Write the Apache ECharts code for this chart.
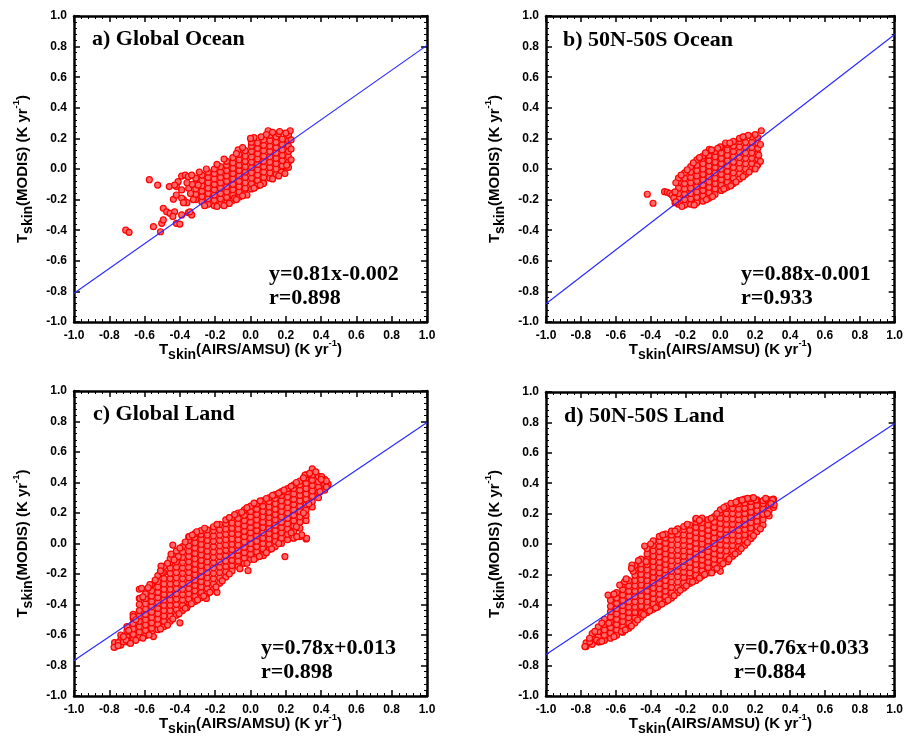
<!DOCTYPE html>
<html>
<head>
<meta charset="utf-8">
<script src="https://cdn.jsdelivr.net/npm/echarts@6/dist/echarts.min.js"></script>
<style>
  html, body { margin: 0; background: #fff; }
  #chart { width: 906px; height: 738px; }
</style>
</head>
<body>
<div id="chart"></div>
<script>
// scatter clouds, one column per x value: [x, y1, y2, ...]
const oceanGlobalCols = [
  [-0.31, -0.20, -0.165, -0.13, -0.095, -0.06],
  [-0.275, -0.215, -0.18, -0.145, -0.11, -0.075, -0.04],
  [-0.24, -0.23, -0.195, -0.16, -0.125, -0.09, -0.055, -0.02],
  [-0.205, -0.24, -0.205, -0.17, -0.135, -0.10, -0.065, -0.03, 0.0],
  [-0.17, -0.23, -0.195, -0.16, -0.125, -0.09, -0.055, -0.02, 0.015],
  [-0.135, -0.22, -0.185, -0.15, -0.115, -0.08, -0.045, -0.01, 0.025, 0.05],
  [-0.10, -0.205, -0.17, -0.135, -0.10, -0.065, -0.03, 0.005, 0.04, 0.075],
  [-0.065, -0.185, -0.15, -0.115, -0.08, -0.045, -0.01, 0.025, 0.06, 0.095],
  [-0.03, -0.16, -0.125, -0.09, -0.055, -0.02, 0.015, 0.05, 0.085, 0.12],
  [0.005, -0.13, -0.095, -0.06, -0.025, 0.01, 0.045, 0.08, 0.115, 0.15, 0.175],
  [0.04, -0.11, -0.075, -0.04, -0.005, 0.03, 0.065, 0.10, 0.135, 0.17],
  [0.075, -0.09, -0.055, -0.02, 0.015, 0.05, 0.085, 0.12, 0.155, 0.19],
  [0.11, -0.06, -0.025, 0.01, 0.045, 0.08, 0.115, 0.15, 0.185, 0.22],
  [0.145, -0.035, 0.0, 0.035, 0.07, 0.105, 0.14, 0.175, 0.21],
  [0.18, -0.015, 0.02, 0.055, 0.09, 0.125, 0.16, 0.195],
  [0.215, 0.01, 0.045, 0.08, 0.115, 0.15, 0.185, 0.22]
];
const oceanGlobalExtra = [
  [-0.707, -0.40], [-0.688, -0.414], [-0.573, -0.07], [-0.526, -0.105], [-0.55, -0.377],
  [-0.503, -0.355], [-0.494, -0.257], [-0.51, -0.41], [-0.494, -0.333], [-0.475, -0.28],
  [-0.456, -0.29], [-0.43, -0.28], [-0.42, -0.355], [-0.39, -0.30], [-0.352, -0.285],
  [-0.333, -0.30], [-0.41, -0.083], [-0.39, -0.046], [-0.37, -0.04], [-0.352, -0.05],
  [-0.42, -0.115], [-0.39, -0.137], [-0.35, -0.126], [-0.38, -0.20], [-0.36, -0.22],
  [-0.324, -0.20], [-0.437, -0.198], [-0.42, -0.17], [-0.39, -0.19], [-0.38, -0.22],
  [-0.46, -0.115], [-0.43, -0.105], [-0.333, -0.04], [-0.296, -0.105], [-0.343, -0.28],
  [-0.40, -0.36], [-0.44, -0.31], [-0.34, -0.16], [-0.33, -0.10], [-0.36, -0.09],
  [0.10, 0.25], [0.125, 0.24], [0.225, 0.25], [0.02, 0.205], [-0.07, 0.125],
  [0.205, 0.025], [0.175, -0.02], [0.073, -0.094], [-0.12, -0.225], [-0.09, -0.19],
  [0.0, 0.20], [-0.02, -0.17], [0.16, 0.23],
  [-0.29, -0.02], [-0.25, 0.0], [-0.19, 0.03], [-0.15, 0.065], [-0.08, 0.10], [-0.045, 0.14],
  [0.06, 0.21], [0.09, 0.225], [0.165, 0.245], [0.2, 0.235], [-0.26, -0.24], [-0.19, -0.245],
  [-0.15, -0.24], [-0.08, -0.2], [-0.045, -0.175], [0.02, -0.125], [0.055, -0.105],
  [0.125, -0.065], [0.16, -0.045], [0.195, -0.03], [0.23, 0.06], [0.23, 0.13], [0.23, 0.19]
];

const ocean5050Cols = [
  [-0.24, -0.23, -0.195, -0.16, -0.125, -0.09, -0.06],
  [-0.205, -0.235, -0.20, -0.165, -0.13, -0.095, -0.06, -0.025],
  [-0.17, -0.23, -0.195, -0.16, -0.125, -0.09, -0.055, -0.02, 0.015],
  [-0.135, -0.22, -0.185, -0.15, -0.115, -0.08, -0.045, -0.01, 0.025, 0.06],
  [-0.10, -0.21, -0.175, -0.14, -0.105, -0.07, -0.035, 0.0, 0.035, 0.07, 0.085],
  [-0.065, -0.19, -0.155, -0.12, -0.085, -0.05, -0.015, 0.02, 0.055, 0.09, 0.12],
  [-0.03, -0.165, -0.13, -0.095, -0.06, -0.025, 0.01, 0.045, 0.08, 0.115],
  [0.005, -0.14, -0.105, -0.07, -0.035, 0.0, 0.035, 0.07, 0.105, 0.14],
  [0.04, -0.12, -0.085, -0.05, -0.015, 0.02, 0.055, 0.09, 0.125, 0.16],
  [0.075, -0.095, -0.06, -0.025, 0.01, 0.045, 0.08, 0.115, 0.15, 0.18],
  [0.11, -0.065, -0.03, 0.005, 0.04, 0.075, 0.11, 0.145, 0.18, 0.20],
  [0.145, -0.035, 0.0, 0.035, 0.07, 0.105, 0.14, 0.175, 0.21],
  [0.18, 0.0, 0.035, 0.07, 0.105, 0.14, 0.175, 0.21],
  [0.215, 0.03, 0.065, 0.10, 0.135, 0.17, 0.205]
];
const ocean5050Extra = [
  [-0.419, -0.165], [-0.386, -0.224], [-0.32, -0.148], [-0.305, -0.152], [-0.29, -0.159],
  [-0.277, -0.17], [-0.267, -0.19], [-0.26, -0.22], [0.235, 0.25], [0.21, 0.022],
  [0.22, 0.09], [-0.063, 0.129], [0.0, 0.145], [0.03, 0.17],
  [-0.255, -0.215], [-0.22, -0.245], [-0.15, -0.235], [-0.08, -0.2], [-0.045, -0.18],
  [0.02, -0.13], [0.06, -0.11], [0.09, -0.085], [0.13, -0.05], [0.165, -0.02], [0.2, 0.0],
  [0.23, 0.05], [0.23, 0.16], [0.2, 0.225], [0.16, 0.22], [0.13, 0.21], [0.055, 0.17],
  [-0.015, 0.135], [-0.05, 0.125], [-0.085, 0.105], [-0.12, 0.075], [-0.155, 0.04],
  [-0.19, -0.005], [-0.225, -0.04], [-0.255, -0.09], [-0.26, -0.15]
];

const landGlobalCols = [
  [-0.77, -0.68, -0.65],
  [-0.735, -0.665, -0.63, -0.60],
  [-0.70, -0.645, -0.61, -0.575, -0.545],
  [-0.665, -0.63, -0.595, -0.56, -0.525, -0.49, -0.465],
  [-0.63, -0.615, -0.58, -0.545, -0.51, -0.475, -0.44, -0.40, -0.36, -0.30],
  [-0.595, -0.605, -0.57, -0.535, -0.50, -0.465, -0.43, -0.395, -0.36, -0.33],
  [-0.56, -0.59, -0.555, -0.52, -0.485, -0.45, -0.415, -0.38, -0.345, -0.31, -0.27],
  [-0.525, -0.565, -0.53, -0.495, -0.46, -0.425, -0.39, -0.355, -0.32, -0.285, -0.25, -0.21],
  [-0.49, -0.545, -0.51, -0.475, -0.44, -0.405, -0.37, -0.335, -0.30, -0.265, -0.23, -0.19, -0.15],
  [-0.455, -0.51, -0.475, -0.44, -0.405, -0.37, -0.335, -0.30, -0.265, -0.23, -0.195, -0.16, -0.125, -0.10],
  [-0.42, -0.47, -0.435, -0.40, -0.365, -0.33, -0.295, -0.26, -0.225, -0.19, -0.155, -0.12, -0.085, -0.05],
  [-0.385, -0.44, -0.405, -0.37, -0.335, -0.30, -0.265, -0.23, -0.195, -0.16, -0.125, -0.09, -0.055, -0.02],
  [-0.35, -0.40, -0.365, -0.33, -0.295, -0.26, -0.225, -0.19, -0.155, -0.12, -0.085, -0.05, -0.015, 0.02, 0.045],
  [-0.315, -0.38, -0.345, -0.31, -0.275, -0.24, -0.205, -0.17, -0.135, -0.10, -0.065, -0.03, 0.005, 0.04, 0.065],
  [-0.28, -0.355, -0.32, -0.285, -0.25, -0.215, -0.18, -0.145, -0.11, -0.075, -0.04, -0.005, 0.03, 0.06, 0.085],
  [-0.245, -0.33, -0.295, -0.26, -0.225, -0.19, -0.155, -0.12, -0.085, -0.05, -0.015, 0.02, 0.055, 0.09],
  [-0.21, -0.30, -0.265, -0.23, -0.195, -0.16, -0.125, -0.09, -0.055, -0.02, 0.015, 0.05, 0.085, 0.11],
  [-0.175, -0.26, -0.225, -0.19, -0.155, -0.12, -0.085, -0.05, -0.015, 0.02, 0.055, 0.09, 0.125],
  [-0.14, -0.22, -0.185, -0.15, -0.115, -0.08, -0.045, -0.01, 0.025, 0.06, 0.095, 0.13, 0.155],
  [-0.105, -0.18, -0.145, -0.11, -0.075, -0.04, -0.005, 0.03, 0.065, 0.10, 0.135, 0.17],
  [-0.07, -0.15, -0.115, -0.08, -0.045, -0.01, 0.025, 0.06, 0.095, 0.13, 0.165, 0.20],
  [-0.035, -0.13, -0.095, -0.06, -0.025, 0.01, 0.045, 0.08, 0.115, 0.15, 0.185, 0.22],
  [0.0, -0.105, -0.07, -0.035, 0.0, 0.035, 0.07, 0.105, 0.14, 0.175, 0.21, 0.245],
  [0.035, -0.09, -0.055, -0.02, 0.015, 0.05, 0.085, 0.12, 0.155, 0.19, 0.225, 0.26],
  [0.07, -0.07, -0.035, 0.0, 0.035, 0.07, 0.105, 0.14, 0.175, 0.21, 0.245, 0.28],
  [0.105, -0.04, -0.005, 0.03, 0.065, 0.10, 0.135, 0.17, 0.205, 0.24, 0.275, 0.30],
  [0.14, -0.02, 0.015, 0.05, 0.085, 0.12, 0.155, 0.19, 0.225, 0.26, 0.295, 0.32],
  [0.175, 0.0, 0.035, 0.07, 0.105, 0.14, 0.175, 0.21, 0.245, 0.28, 0.315, 0.34],
  [0.21, 0.025, 0.06, 0.095, 0.13, 0.165, 0.20, 0.235, 0.27, 0.305, 0.34, 0.36],
  [0.245, 0.035, 0.08, 0.115, 0.15, 0.185, 0.22, 0.255, 0.29, 0.325, 0.36, 0.385],
  [0.28, 0.045, 0.10, 0.14, 0.175, 0.21, 0.245, 0.28, 0.315, 0.35, 0.385, 0.41],
  [0.315, 0.03, 0.15, 0.185, 0.22, 0.255, 0.29, 0.325, 0.36, 0.395, 0.43, 0.45],
  [0.35, 0.24, 0.275, 0.31, 0.345, 0.38, 0.415, 0.45, 0.49],
  [0.385, 0.30, 0.335, 0.37, 0.405, 0.44],
  [0.42, 0.35, 0.385, 0.42]
];
const landGlobalExtra = [
  [0.195, -0.086], [-0.44, -0.01], [-0.507, -0.148], [-0.50, -0.19], [-0.617, -0.294],
  [-0.57, -0.27], [-0.626, -0.36], [-0.664, -0.48], [-0.749, -0.65], [-0.72, -0.644],
  [-0.705, -0.633], [-0.773, -0.681], [-0.409, -0.086], [-0.433, -0.108], [-0.347, 0.045],
  [-0.305, 0.077], [0.309, 0.449], [0.403, 0.438], [0.394, 0.34], [0.318, 0.034],
  [0.29, 0.056], [0.262, 0.045], [-0.40, -0.52], [-0.19, -0.32], [-0.014, -0.178],
  [0.073, -0.08], [-0.36, -0.42], [-0.25, -0.36], [-0.55, -0.61], [0.44, 0.39], [0.43, 0.41],
  [-0.45, -0.07], [-0.40, -0.03], [-0.37, 0.01], [-0.33, 0.055], [-0.26, 0.10], [-0.19, 0.125],
  [-0.12, 0.17], [-0.09, 0.19], [-0.05, 0.205], [-0.02, 0.235], [0.02, 0.265], [0.055, 0.28],
  [0.09, 0.295], [0.125, 0.315], [0.16, 0.33], [0.19, 0.35], [0.23, 0.375], [0.26, 0.40],
  [0.30, 0.43], [0.335, 0.46], [0.37, 0.47], [0.40, 0.42], [0.43, 0.37], [0.33, 0.26],
  [0.30, 0.20], [0.26, 0.11], [0.23, 0.07], [0.16, 0.0], [0.12, -0.035], [0.09, -0.06],
  [0.05, -0.085], [0.02, -0.105], [-0.02, -0.13], [-0.06, -0.165], [-0.12, -0.2],
  [-0.16, -0.245], [-0.195, -0.285], [-0.23, -0.32], [-0.265, -0.345], [-0.30, -0.37],
  [-0.335, -0.395], [-0.37, -0.425], [-0.405, -0.46], [-0.44, -0.495], [-0.47, -0.535],
  [-0.51, -0.56], [-0.575, -0.60], [-0.61, -0.62], [-0.65, -0.635], [-0.68, -0.655],
  [-0.75, -0.67], [-0.72, -0.61], [-0.69, -0.57], [-0.65, -0.50], [-0.61, -0.35],
  [-0.58, -0.29], [-0.54, -0.24], [-0.51, -0.18], [-0.47, -0.13]
];

const land5050Cols = [
  [-0.77, -0.675, -0.65],
  [-0.735, -0.66, -0.625, -0.59],
  [-0.70, -0.645, -0.61, -0.575, -0.545],
  [-0.665, -0.635, -0.60, -0.565, -0.53, -0.495],
  [-0.63, -0.62, -0.585, -0.55, -0.515, -0.48, -0.445, -0.41, -0.37],
  [-0.595, -0.60, -0.565, -0.53, -0.495, -0.46, -0.425, -0.39, -0.355, -0.32],
  [-0.56, -0.58, -0.545, -0.51, -0.475, -0.44, -0.405, -0.37, -0.335, -0.30, -0.265],
  [-0.525, -0.555, -0.52, -0.485, -0.45, -0.415, -0.38, -0.345, -0.31, -0.275, -0.24],
  [-0.49, -0.52, -0.485, -0.45, -0.415, -0.38, -0.345, -0.31, -0.275, -0.24, -0.205, -0.17, -0.14],
  [-0.455, -0.48, -0.445, -0.41, -0.375, -0.34, -0.305, -0.27, -0.235, -0.20, -0.165, -0.13, -0.10],
  [-0.42, -0.45, -0.415, -0.38, -0.345, -0.31, -0.275, -0.24, -0.205, -0.17, -0.135, -0.10, -0.065, -0.03],
  [-0.385, -0.43, -0.395, -0.36, -0.325, -0.29, -0.255, -0.22, -0.185, -0.15, -0.115, -0.08, -0.045, -0.01, 0.02],
  [-0.35, -0.40, -0.365, -0.33, -0.295, -0.26, -0.225, -0.19, -0.155, -0.12, -0.085, -0.05, -0.015, 0.02, 0.05],
  [-0.315, -0.38, -0.345, -0.31, -0.275, -0.24, -0.205, -0.17, -0.135, -0.10, -0.065, -0.03, 0.005, 0.04, 0.065],
  [-0.28, -0.355, -0.32, -0.285, -0.25, -0.215, -0.18, -0.145, -0.11, -0.075, -0.04, -0.005, 0.03, 0.06, 0.085],
  [-0.245, -0.32, -0.285, -0.25, -0.215, -0.18, -0.145, -0.11, -0.075, -0.04, -0.005, 0.03, 0.065, 0.10],
  [-0.21, -0.29, -0.255, -0.22, -0.185, -0.15, -0.115, -0.08, -0.045, -0.01, 0.025, 0.06, 0.095, 0.115],
  [-0.175, -0.26, -0.225, -0.19, -0.155, -0.12, -0.085, -0.05, -0.015, 0.02, 0.055, 0.09, 0.125],
  [-0.14, -0.24, -0.205, -0.17, -0.135, -0.10, -0.065, -0.03, 0.005, 0.04, 0.075, 0.11, 0.145, 0.165],
  [-0.105, -0.21, -0.175, -0.14, -0.105, -0.07, -0.035, 0.0, 0.035, 0.07, 0.105, 0.14, 0.17],
  [-0.07, -0.19, -0.155, -0.12, -0.085, -0.05, -0.015, 0.02, 0.055, 0.09, 0.125, 0.16],
  [-0.035, -0.17, -0.135, -0.10, -0.065, -0.03, 0.005, 0.04, 0.075, 0.11, 0.145, 0.18],
  [0.0, -0.145, -0.11, -0.075, -0.04, -0.005, 0.03, 0.065, 0.10, 0.135, 0.17, 0.205, 0.225],
  [0.035, -0.115, -0.08, -0.045, -0.01, 0.025, 0.06, 0.095, 0.13, 0.165, 0.20, 0.235, 0.25],
  [0.07, -0.08, -0.045, -0.01, 0.025, 0.06, 0.095, 0.13, 0.165, 0.20, 0.235, 0.265],
  [0.105, -0.05, -0.015, 0.02, 0.055, 0.09, 0.125, 0.16, 0.195, 0.23, 0.265, 0.285],
  [0.14, -0.01, 0.025, 0.06, 0.095, 0.13, 0.165, 0.20, 0.235, 0.27, 0.295],
  [0.175, 0.035, 0.07, 0.105, 0.14, 0.175, 0.21, 0.245, 0.28, 0.30],
  [0.21, 0.08, 0.115, 0.15, 0.185, 0.22, 0.255, 0.29],
  [0.245, 0.125, 0.16, 0.195, 0.23, 0.265, 0.285],
  [0.28, 0.185, 0.22, 0.255, 0.29],
  [0.305, 0.24, 0.27, 0.295]
];
const land5050Extra = [
  [-0.777, -0.675], [-0.749, -0.643], [-0.71, -0.632], [-0.691, -0.643], [-0.644, -0.336],
  [-0.577, -0.27], [-0.549, -0.248], [-0.50, -0.18], [-0.507, -0.138], [-0.434, -0.013],
  [-0.425, -0.116], [-0.36, -0.415], [-0.177, -0.248], [-0.05, -0.19], [0.0, -0.18],
  [0.042, -0.116], [0.175, 0.037], [0.30, 0.29], [0.309, 0.257], [0.156, 0.30],
  [0.204, 0.29], [-0.139, 0.169], [-0.053, 0.169], [0.061, 0.268], [-0.453, -0.456],
  [-0.567, -0.577], [-0.64, -0.52],
  [-0.47, -0.11], [-0.40, 0.0], [-0.33, 0.06], [-0.26, 0.085], [-0.19, 0.13], [-0.12, 0.155],
  [-0.02, 0.2], [0.02, 0.24], [0.09, 0.275], [0.125, 0.29], [0.19, 0.305], [0.26, 0.30],
  [0.29, 0.265], [0.27, 0.2], [0.23, 0.10], [0.19, 0.055], [0.155, 0.01], [0.12, -0.03],
  [0.085, -0.065], [0.05, -0.1], [0.015, -0.13], [-0.02, -0.16], [-0.09, -0.2], [-0.12, -0.225],
  [-0.16, -0.25], [-0.195, -0.275], [-0.23, -0.305], [-0.265, -0.34], [-0.30, -0.37],
  [-0.335, -0.395], [-0.37, -0.42], [-0.405, -0.44], [-0.44, -0.465], [-0.475, -0.50],
  [-0.51, -0.54], [-0.545, -0.565], [-0.61, -0.61], [-0.68, -0.64], [-0.75, -0.62],
  [-0.72, -0.575], [-0.68, -0.52], [-0.61, -0.33], [-0.54, -0.23], [-0.51, -0.16]
];

// regression line end points at x = -1 and x = 1
const fitLines = [
  [[-1, -0.812], [1, 0.808]],
  [[-1, -0.881], [1, 0.879]],
  [[-1, -0.767], [1, 0.793]],
  [[-1, -0.727], [1, 0.793]]
];
const panelTitles = ['a) Global Ocean', 'b) 50N-50S Ocean', 'c) Global Land', 'd) 50N-50S Land'];
const fitTexts = ['y=0.81x-0.002\nr=0.898', 'y=0.88x-0.001\nr=0.933', 'y=0.78x+0.013\nr=0.898', 'y=0.76x+0.033\nr=0.884'];

const toPoints = (cols, extra) => cols.flatMap(c => c.slice(1).map(y => [c[0], y])).concat(extra);
const clouds = [
  toPoints(oceanGlobalCols, oceanGlobalExtra),
  toPoints(ocean5050Cols, ocean5050Extra),
  toPoints(landGlobalCols, landGlobalExtra),
  toPoints(land5050Cols, land5050Extra)
];

const grids = [
  { left: 74, top: 16, width: 353, height: 306 },
  { left: 546, top: 16, width: 352, height: 306 },
  { left: 74, top: 391, width: 353, height: 305 },
  { left: 546, top: 392, width: 350, height: 304 }
];
const titlePos = [[92, 28], [563, 29], [93, 403], [564, 405]];
const fitPos = [[269, 262], [741, 262], [261, 636], [734, 636]];

const sans = 'Liberation Sans, Arial, sans-serif';
const serif = 'Liberation Serif, Times New Roman, serif';
const nameRich = {
  b: { fontFamily: sans, fontWeight: 'bold', fontSize: 15, lineHeight: 24, color: '#000' },
  s: { fontFamily: sans, fontWeight: 'bold', fontSize: 14, lineHeight: 14, verticalAlign: 'bottom', color: '#000' },
  p: { fontFamily: sans, fontWeight: 'bold', fontSize: 9.5, lineHeight: 10, verticalAlign: 'top', color: '#000' }
};
const fmt = v => (Math.abs(v) < 1e-9 ? 0 : v).toFixed(1);

function axis(gridIndex, position, withLabels, name) {
  const a = {
    type: 'value', gridIndex, position, min: -1, max: 1, interval: 0.2,
    axisLine: { onZero: false, lineStyle: { color: '#000', width: 2.5 } },
    axisTick: { inside: true, length: 6, lineStyle: { color: '#000', width: 1.5 } },
    minorTick: { show: true, splitNumber: 5, length: 3, lineStyle: { color: '#000', width: 1 } },
    splitLine: { show: false },
    axisLabel: {
      show: withLabels, formatter: fmt, color: '#000',
      fontFamily: sans, fontWeight: 'bold', fontSize: 12,
      margin: position === 'left' ? 7 : 8
    }
  };
  if (name) {
    a.name = name;
    a.nameLocation = 'middle';
    a.nameMoveOverlap = false;
    a.nameTextStyle = { rich: nameRich };
    if (position === 'left') { a.nameRotate = 90; a.nameGap = 39; }
    else { a.nameGap = 16; }
  }
  return a;
}

const xName = '{b|T}{s|skin}{b|(AIRS/AMSU) (K yr}{p|-1}{b|)}';
const yName = '{b|T}{s|skin}{b|(MODIS) (K yr}{p|-1}{b|)}';

const xAxes = [], yAxes = [], series = [], titles = [];
grids.forEach((g, i) => {
  xAxes.push(axis(i, 'bottom', true, xName), axis(i, 'top', false));
  yAxes.push(axis(i, 'left', true, yName), axis(i, 'right', false));
  series.push({
    type: 'scatter', xAxisIndex: 2 * i, yAxisIndex: 2 * i,
    data: clouds[i], symbol: 'circle', symbolSize: 6,
    itemStyle: { color: '#ff6a6a', borderColor: '#ff0000', borderWidth: 1.2, opacity: 1 },
    z: 2
  });
  series.push({
    type: 'line', xAxisIndex: 2 * i, yAxisIndex: 2 * i,
    data: fitLines[i], symbol: 'none',
    lineStyle: { color: '#2b2bff', width: 1.2 }, z: 3
  });
  titles.push({
    text: panelTitles[i], left: titlePos[i][0], top: titlePos[i][1], padding: 0,
    textStyle: { fontFamily: serif, fontWeight: 'bold', fontSize: 22, lineHeight: 22, color: '#000' }
  });
  titles.push({
    text: fitTexts[i], left: fitPos[i][0], top: fitPos[i][1], padding: 0,
    textStyle: { fontFamily: serif, fontWeight: 'bold', fontSize: 22, lineHeight: 24, color: '#000' }
  });
});

const chart = echarts.init(document.getElementById('chart'), null, { renderer: 'canvas' });
chart.setOption({
  backgroundColor: '#fff',
  animation: false,
  title: titles,
  grid: grids,
  xAxis: xAxes,
  yAxis: yAxes,
  series
});
</script>
</body>
</html>
